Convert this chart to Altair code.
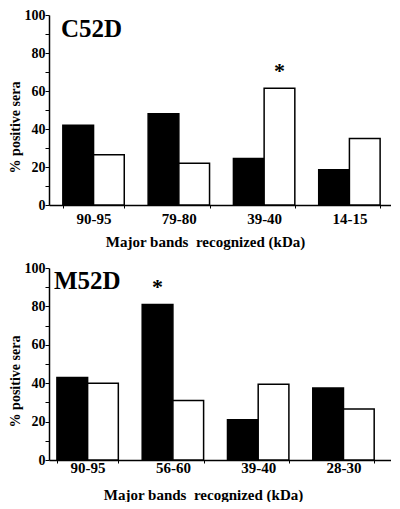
import altair as alt
import pandas as pd

FONT = "Liberation Serif"

top_bands = ["90-95", "79-80", "39-40", "14-15"]
top_black = [42, 48, 24.5, 18.5]
top_white = [26.5, 22, 61.5, 35]

bottom_bands = ["90-95", "56-60", "39-40", "28-30"]
bottom_black = [43, 81, 21, 37.5]
bottom_white = [40, 31, 39.5, 26.5]

series_names = ["Series 1", "Series 2"]
series_colors = ["black", "white"]

top_label = "C52D"
bottom_label = "M52D"
top_star = ("39-40", "Series 2")
bottom_star = ("56-60", "Series 1")

y_ticks = list(range(0, 101, 10))
x_title = "Major bands\u00a0 recognized (kDa)"
y_title = "% positive sera"


def panel(bands, black, white, label, star, align, label_x, label_y,
          label_pad, title_pad, title_x, title_y, height):
    df = pd.DataFrame({
        "band": bands * 2,
        "series": [series_names[0]] * len(bands) + [series_names[1]] * len(bands),
        "value": black + white,
    })
    star_df = df[(df["band"] == star[0]) & (df["series"] == star[1])].assign(sym="*")

    x_axis = alt.Axis(
        title=x_title, labelAngle=0, labelFont=FONT, labelFontSize=15,
        labelFontWeight="bold", labelColor="black", labelPadding=label_pad,
        tickBand="extent", tickSize=3, tickColor="black", tickWidth=1,
        domainColor="black", domainWidth=1.5,
        titleFont=FONT, titleFontSize=15, titleFontWeight="bold",
        titleColor="black", titlePadding=title_pad, titleX=title_x,
        titleAnchor="middle", titleAlign="center",
    )
    y_axis = alt.Axis(
        title=y_title, values=y_ticks,
        labelExpr="datum.value % 20 === 0 ? datum.label : ''",
        labelOverlap=False,
        labelFont=FONT, labelFontSize=14, labelFontWeight="bold",
        labelColor="black", labelPadding=0, tickSize=4, tickColor="black",
        tickWidth=1, domainColor="black", domainWidth=1.5, grid=False,
        titleFont=FONT, titleFontSize=14, titleFontWeight="bold",
        titleColor="black", titlePadding=2, titleY=title_y,
        titleAlign="center",
    )
    x = alt.X("band:N", sort=bands,
              scale=alt.Scale(paddingInner=0.28, paddingOuter=0.145, align=align),
              axis=x_axis)
    xo = alt.XOffset("series:N", sort=series_names)
    y = alt.Y("value:Q", scale=alt.Scale(domain=[0, 100], nice=False), axis=y_axis)

    bars = alt.Chart(df).mark_bar(stroke="black", strokeWidth=1.5).encode(
        x=x, xOffset=xo, y=y,
        color=alt.Color("series:N",
                        scale=alt.Scale(domain=series_names, range=series_colors),
                        legend=None),
    )
    stars = alt.Chart(star_df).mark_text(
        font=FONT, fontSize=22, fontWeight="bold", baseline="alphabetic",
        dy=-10, color="black",
    ).encode(x=x, xOffset=xo, y=y, text="sym:N")
    lab = alt.Chart(pd.DataFrame({"t": [label]})).mark_text(
        font=FONT, fontSize=25, fontWeight="bold", align="left",
        baseline="alphabetic", color="black",
    ).encode(x=alt.value(label_x), y=alt.value(label_y), text="t:N")
    return alt.layer(bars, stars, lab).properties(width=342, height=height)


top = panel(top_bands, top_black, top_white, top_label, top_star, 0.56,
            12, 22, 3, 8, 156, 112, 190)
bottom = panel(bottom_bands, bottom_black, bottom_white, bottom_label, bottom_star, 0.32,
               5, 21, -3, 12, 154, 113, 192)

chart = alt.vconcat(top, bottom, spacing=12).properties(
    padding={"left": 0, "top": 0, "right": 0, "bottom": 0}
).configure_view(stroke=None).configure_axis(
    labelFont=FONT, titleFont=FONT, labelFontWeight="bold", titleFontWeight="bold"
)

chart.save("out.html", embed_options={"renderer": "svg", "actions": False})
